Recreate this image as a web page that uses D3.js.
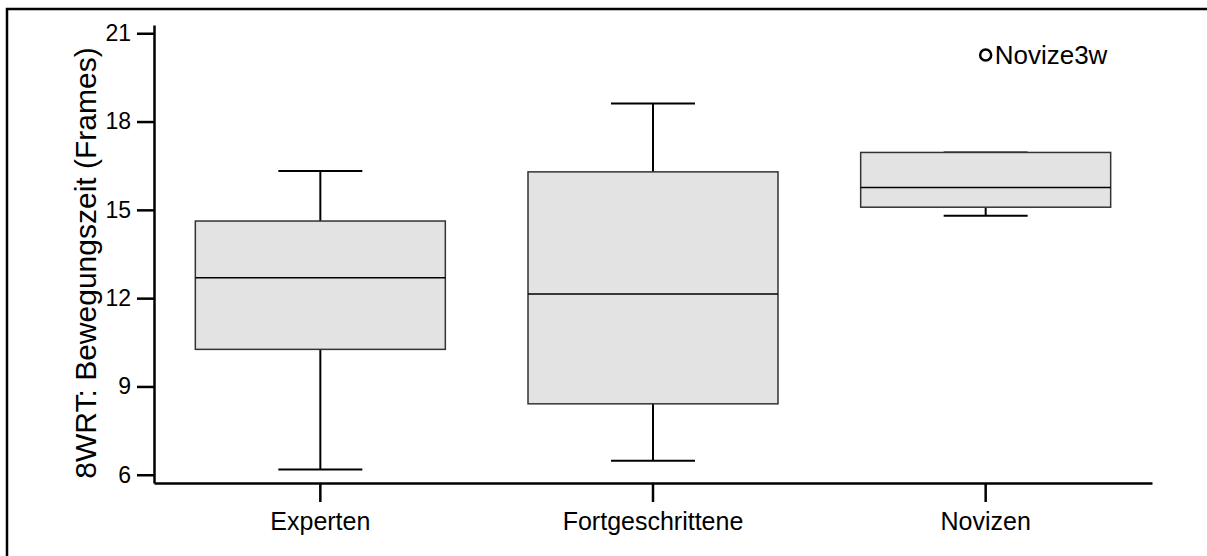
<!DOCTYPE html>
<html>
<head>
<meta charset="utf-8">
<script src="https://cdn.jsdelivr.net/npm/d3@7"></script>
<style>
  body { margin: 0; background: #fff; }
  svg text { font-family: Arial, "Liberation Sans", sans-serif; fill: #000; }
</style>
</head>
<body>
<svg id="chart" width="1207" height="556"></svg>
<script>
// data
const categories = ['Experten', 'Fortgeschrittene', 'Novizen']
const whiskerLow  = [6.18, 6.48, 14.80]
const quartile1   = [10.26, 8.41, 15.09]
const medians     = [12.69, 12.14, 15.76]
const quartile3   = [14.62, 16.29, 16.95]
const whiskerHigh = [16.32, 18.61, 16.95]
const outliers = [{group: 'Novizen', value: 20.26, label: 'Novize3w'}]
const yTicks = [6, 9, 12, 15, 18, 21]
const yTitle = '8WRT: Bewegungszeit (Frames)'

const width = 1207
const height = 556
const marginLeft = 154
const marginRight = 55
const marginTop = 25
const marginBottom = 73

const boxes = categories.map((c, i) => ({
  name: c,
  lo: whiskerLow[i], q1: quartile1[i], med: medians[i], q3: quartile3[i], hi: whiskerHigh[i]
}))

const svg = d3.select('#chart')

// outer frame (runs past the right and bottom edge)
svg.append('rect')
    .attr('x', 7).attr('y', 9)
    .attr('width', 1220).attr('height', 570)
    .attr('fill', 'none')
    .attr('stroke', '#000')
    .attr('stroke-width', 2.5)

const xScale = d3.scaleBand()
    .domain(categories)
    .range([marginLeft, width - marginRight])

const yScale = d3.scaleLinear()
    .domain([5.72, 21.28])
    .range([height - marginBottom, marginTop])

const boxWidth = 250
const capWidth = 84

const g = svg.append('g')

boxes.forEach(d => {
  const cx = xScale(d.name) + xScale.bandwidth() / 2
  // whiskers
  g.append('line')
      .attr('x1', cx).attr('x2', cx)
      .attr('y1', yScale(d.q3)).attr('y2', yScale(d.hi))
      .attr('stroke', '#000').attr('stroke-width', 2)
  g.append('line')
      .attr('x1', cx).attr('x2', cx)
      .attr('y1', yScale(d.q1)).attr('y2', yScale(d.lo))
      .attr('stroke', '#000').attr('stroke-width', 2)
  ;[d.lo, d.hi].forEach(v => {
    g.append('line')
        .attr('x1', cx - capWidth / 2).attr('x2', cx + capWidth / 2)
        .attr('y1', yScale(v)).attr('y2', yScale(v))
        .attr('stroke', '#000').attr('stroke-width', 2)
  })
  // box
  g.append('rect')
      .attr('x', cx - boxWidth / 2)
      .attr('y', yScale(d.q3))
      .attr('width', boxWidth)
      .attr('height', yScale(d.q1) - yScale(d.q3))
      .attr('fill', '#e3e3e3')
      .attr('stroke', '#333')
      .attr('stroke-width', 1.5)
  // median
  g.append('line')
      .attr('x1', cx - boxWidth / 2).attr('x2', cx + boxWidth / 2)
      .attr('y1', yScale(d.med)).attr('y2', yScale(d.med))
      .attr('stroke', '#000').attr('stroke-width', 1.5)
})

// outliers
outliers.forEach(o => {
  const cx = xScale(o.group) + xScale.bandwidth() / 2
  g.append('circle')
      .attr('cx', cx).attr('cy', yScale(o.value))
      .attr('r', 5.5)
      .attr('fill', '#fff')
      .attr('stroke', '#000')
      .attr('stroke-width', 2.5)
  g.append('text')
      .attr('x', cx + 9).attr('y', yScale(o.value) + 9)
      .attr('font-size', 26)
      .text(o.label)
})

// axes
const yAxis = svg.append('g')
    .attr('transform', `translate(${marginLeft},0)`)
    .call(d3.axisLeft(yScale).tickValues(yTicks).tickSize(17).tickPadding(6).tickSizeOuter(0))
yAxis.select('.domain').attr('stroke-width', 2.5)
yAxis.selectAll('.tick line').attr('stroke-width', 2.5)
yAxis.selectAll('text').attr('font-size', 23).attr('font-family', 'Arial, "Liberation Sans", sans-serif')

const xAxis = svg.append('g')
    .attr('transform', `translate(0,${height - marginBottom})`)
    .call(d3.axisBottom(xScale).tickSize(19).tickPadding(10).tickSizeOuter(0))
xAxis.select('.domain').attr('stroke-width', 2.5)
xAxis.selectAll('.tick line').attr('stroke-width', 2.5)
xAxis.selectAll('text').attr('font-size', 25).attr('font-family', 'Arial, "Liberation Sans", sans-serif')

// y title
svg.append('text')
    .attr('transform', `translate(96,263) rotate(-90)`)
    .attr('text-anchor', 'middle')
    .attr('font-size', 30)
    .text(yTitle)
</script>
</body>
</html>
